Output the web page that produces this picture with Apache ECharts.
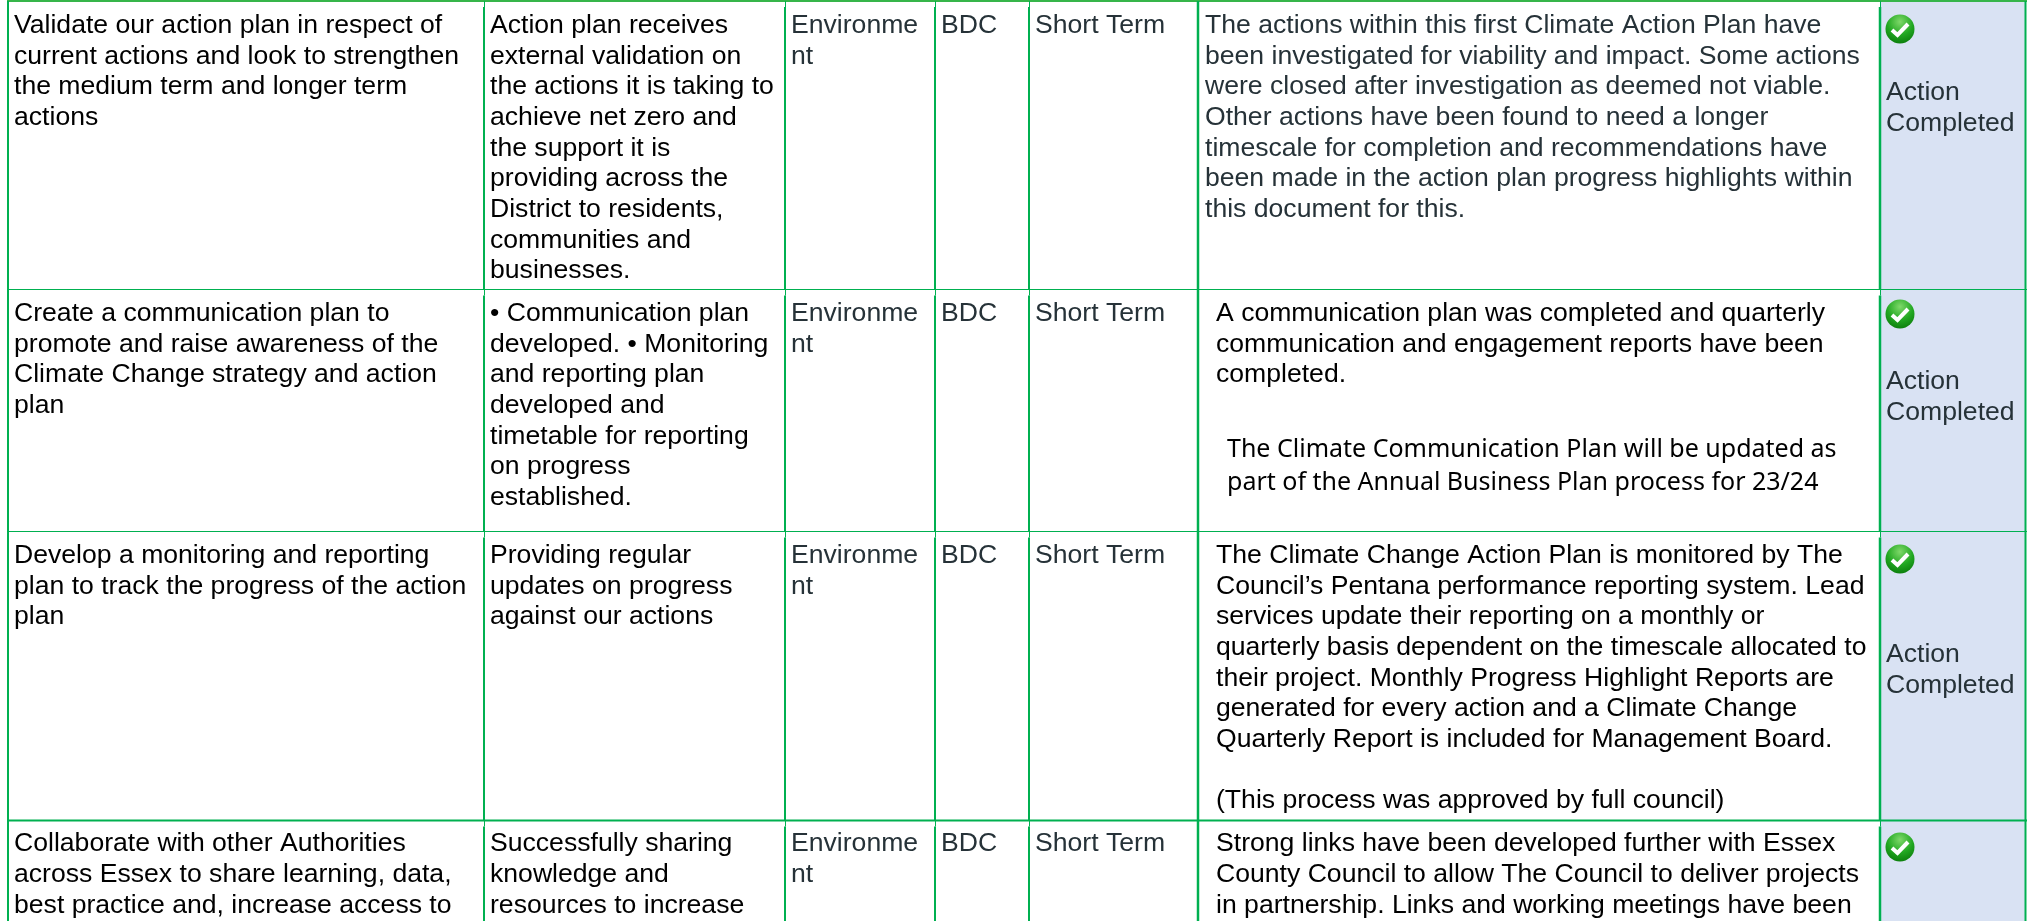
<!DOCTYPE html>
<html>
<head>
<meta charset="utf-8">
<style>
html, body { margin: 0; padding: 0; background: #fff; }
#main { width: 2027px; height: 921px; }
</style>
<script src="https://cdn.jsdelivr.net/npm/echarts@6/dist/echarts.min.js"></script>
</head>
<body>
<div id="main"></div>
<script>
var actions = [
    ['Validate our action plan in respect of', 'current actions and look to strengthen', 'the medium term and longer term', 'actions'],
    ['Create a communication plan to', 'promote and raise awareness of the', 'Climate Change strategy and action', 'plan'],
    ['Develop a monitoring and reporting', 'plan to track the progress of the action', 'plan'],
    ['Collaborate with other Authorities', 'across Essex to share learning, data,', 'best practice and, increase access to']
];
var outcomes = [
    ['Action plan receives', 'external validation on', 'the actions it is taking to', 'achieve net zero and', 'the support it is', 'providing across the', 'District to residents,', 'communities and', 'businesses.'],
    ['• Communication plan', 'developed. • Monitoring', 'and reporting plan', 'developed and', 'timetable for reporting', 'on progress', 'established.'],
    ['Providing regular', 'updates on progress', 'against our actions'],
    ['Successfully sharing', 'knowledge and', 'resources to increase']
];
var services = ['Environme\nnt', 'Environme\nnt', 'Environme\nnt', 'Environme\nnt'];
var leads = ['BDC', 'BDC', 'BDC', 'BDC'];
var terms = ['Short Term', 'Short Term', 'Short Term', 'Short Term'];
var updates = [
    ['The actions within this first Climate Action Plan have', 'been investigated for viability and impact. Some actions', 'were closed after investigation as deemed not viable.', 'Other actions have been found to need a longer', 'timescale for completion and recommendations have', 'been made in the action plan progress highlights within', 'this document for this.'],
    ['A communication plan was completed and quarterly', 'communication and engagement reports have been', 'completed.'],
    ['The Climate Change Action Plan is monitored by The', 'Council’s Pentana performance reporting system. Lead', 'services update their reporting on a monthly or', 'quarterly basis dependent on the timescale allocated to', 'their project. Monthly Progress Highlight Reports are', 'generated for every action and a Climate Change', 'Quarterly Report is included for Management Board.', '', '(This process was approved by full council)'],
    ['Strong links have been developed further with Essex', 'County Council to allow The Council to deliver projects', 'in partnership. Links and working meetings have been']
];
var planNote = ['The Climate Communication Plan will be updated as', 'part of the Annual Business Plan process for 23/24'];
var statusLabels = ['Action\nCompleted', 'Action\nCompleted', 'Action\nCompleted', ''];

// table layout, in the axis units (one unit is one pixel of the picture)
var colEdges = [8, 484, 785, 935, 1029, 1198, 1880, 2025.5];
var colWidths = [2, 2, 2, 2, 2, 2.5, 2.5, 2];
var notchedCols = [false, true, true, true, true, false, true, false];
var rowEdges = [1, 289.5, 531.5, 820.5, 921];
var rowWidths = [2, 1, 1, 2];
var textX = [14, 490, 791, 941, 1035, 1205, 1886];
var updateX = [1205, 1216, 1216, 1216];
var firstLineY = [25.5, 313.5, 555.5, 844];
var statusY = [93, 382, 655, 0];
var iconY = [29, 314, 559, 847];
var FONT_SIZE = 26.6;
var LINE_H = 30.7;
var GREEN = '#00B050';
var GREY = '#263238';

var chart = echarts.init(document.getElementById('main'), null, { renderer: 'canvas' });

function textEl(api, x, y, str, color, font, size) {
    var p = api.coord([x, y]);
    return {
        type: 'text',
        style: {
            x: p[0],
            y: p[1],
            text: str,
            fill: color,
            font: size + 'px "' + font + '"',
            textAlign: 'left',
            textVerticalAlign: 'middle'
        }
    };
}

function linesEl(api, x, y, lines, color) {
    return lines.map(function (line, i) {
        return textEl(api, x, y + i * LINE_H, line, color, 'Liberation Sans', FONT_SIZE);
    });
}

function renderRow(params, api) {
    var r = api.value(0);
    var els = [];

    // status cell background
    var a = api.coord([colEdges[6], rowEdges[r]]);
    var b = api.coord([colEdges[7], rowEdges[r + 1]]);
    els.push({ type: 'rect', shape: { x: a[0], y: a[1], width: b[0] - a[0], height: b[1] - a[1] }, style: { fill: '#D9E2F3' } });

    var y = firstLineY[r];
    els = els.concat(linesEl(api, textX[0], y, actions[r], '#000'));
    els = els.concat(linesEl(api, textX[1], y, outcomes[r], '#000'));
    els = els.concat(linesEl(api, textX[2], y, services[r].split('\n'), GREY));
    els = els.concat(linesEl(api, textX[3], y, [leads[r]], GREY));
    els = els.concat(linesEl(api, textX[4], y, [terms[r]], GREY));
    els = els.concat(linesEl(api, updateX[r], y, updates[r], r === 0 ? GREY : '#000'));

    if (r === 1) {
        planNote.forEach(function (line, i) {
            els.push(textEl(api, 1227, 450 + i * 32.5, line, '#000', 'Noto Sans', 25));
        });
    }
    if (statusLabels[r]) {
        els = els.concat(linesEl(api, textX[6], statusY[r], statusLabels[r].split('\n'), GREY));
    }

    // tick icon
    var c = api.coord([1900, iconY[r]]);
    els.push({
        type: 'circle',
        shape: { cx: c[0], cy: c[1], r: 14.5 },
        style: {
            fill: {
                type: 'radial', x: 0.5, y: 0.25, r: 0.8,
                colorStops: [{ offset: 0, color: '#7FD96A' }, { offset: 0.55, color: '#22A822' }, { offset: 1, color: '#0A7A0A' }]
            }
        }
    });
    els.push({
        type: 'polyline',
        shape: { points: [[c[0] - 8, c[1] + 1], [c[0] - 2.5, c[1] + 6], [c[0] + 8, c[1] - 5]] },
        style: { stroke: '#fff', lineWidth: 4, fill: null, lineJoin: 'miter' }
    });

    return { type: 'group', children: els };
}

function ruleEl(x1, y1, x2, y2, w, color) {
    return { type: 'line', shape: { x1: x1, y1: y1, x2: x2, y2: y2 }, style: { stroke: color, lineWidth: w } };
}

function renderRule(params, api) {
    var horizontal = api.value(0) === 0;
    var i = api.value(1);
    if (horizontal) {
        var h1 = api.coord([colEdges[0] - 1, rowEdges[i]]);
        var h2 = api.coord([2027, rowEdges[i]]);
        return ruleEl(h1[0], h1[1], h2[0], h2[1], rowWidths[i], i === 0 ? '#36B54A' : GREEN);
    }
    var c = api.value(2);
    var top = api.coord([colEdges[c], rowEdges[i]]);
    var bottom = api.coord([colEdges[c], rowEdges[i + 1]]);
    if (!notchedCols[c]) {
        return ruleEl(top[0], top[1], bottom[0], bottom[1], colWidths[c], GREEN);
    }
    // these rules start thin for a few pixels under each row line
    return {
        type: 'group',
        children: [
            ruleEl(top[0] + 0.5, top[1], top[0] + 0.5, top[1] + 6, 1, GREEN),
            ruleEl(top[0], top[1] + 6, bottom[0], bottom[1], colWidths[c], GREEN)
        ]
    };
}

var ruleData = [];
rowWidths.forEach(function (w, i) { ruleData.push([0, i, 0]); });
colWidths.forEach(function (w, c) {
    rowWidths.forEach(function (w2, i) { ruleData.push([1, i, c]); });
});

chart.setOption({
    animation: false,
    backgroundColor: '#fff',
    tooltip: { show: false },
    grid: { left: 0, right: 0, top: 0, bottom: 0 },
    xAxis: { type: 'value', min: 0, max: 2027, show: false },
    yAxis: { type: 'value', min: 0, max: 921, inverse: true, show: false },
    series: [
        { type: 'custom', name: 'rows', silent: true, renderItem: renderRow, data: actions.map(function (a, i) { return [i]; }), encode: { x: -1, y: -1 }, z: 1 },
        { type: 'custom', name: 'rules', silent: true, renderItem: renderRule, data: ruleData, encode: { x: -1, y: -1 }, z: 2 }
    ]
});
</script>
</body>
</html>
